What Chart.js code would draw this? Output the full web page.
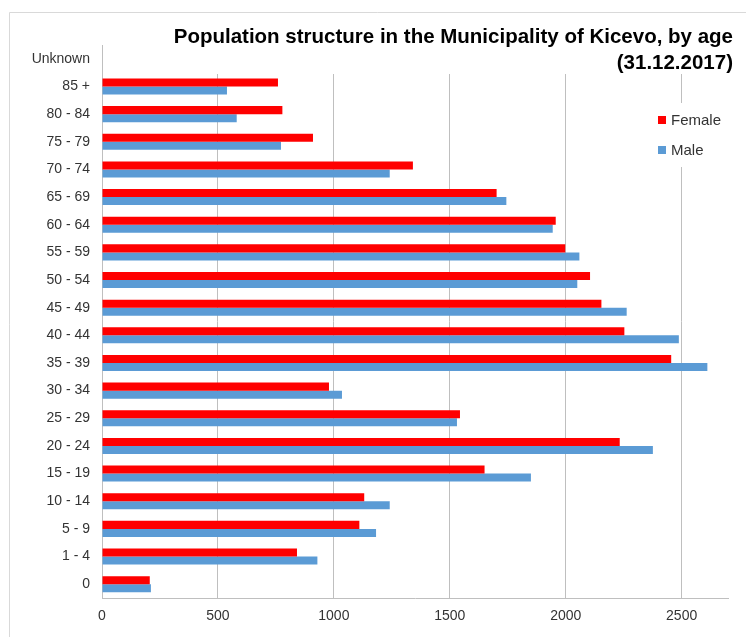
<!DOCTYPE html>
<html>
<head>
<meta charset="utf-8">
<script src="https://cdn.jsdelivr.net/npm/chart.js@4"></script>
<style>
  body { margin: 0; background: #fff; }
  #wrap { width: 746px; height: 637px; position: relative; }
</style>
</head>
<body>
<div id="wrap"><canvas id="chart"></canvas></div>
<script>
// age groups, top to bottom as shown
const ageGroups = ['Unknown', '85 +', '80 - 84', '75 - 79', '70 - 74', '65 - 69', '60 - 64', '55 - 59',
  '50 - 54', '45 - 49', '40 - 44', '35 - 39', '30 - 34', '25 - 29', '20 - 24', '15 - 19',
  '10 - 14', '5 - 9', '1 - 4', '0'];
const female = [0, 759, 778, 910, 1341, 1702, 1957, 1998, 2105, 2154, 2253, 2455, 979, 1544, 2233, 1650, 1131, 1110, 841, 206];
const male = [0, 539, 581, 772, 1241, 1744, 1944, 2059, 2050, 2263, 2488, 2611, 1035, 1531, 2376, 1850, 1241, 1182, 929, 211];
const xTicks = [0, 500, 1000, 1500, 2000, 2500];

const titleLines = ['Population structure in the Municipality of Kicevo, by age', '(31.12.2017)'];
const legendItems = [{ text: 'Female', color: '#ff0000' }, { text: 'Male', color: '#5b9bd5' }];

const FONT = '"Liberation Sans", Arial, sans-serif';
const TEXT = '#333333';

// frame + masks behind title/legend (gridlines are hidden there in the original)
const decor = {
  id: 'decor',
  beforeDraw(chart) {
    const ctx = chart.ctx;
    ctx.save();
    ctx.fillStyle = '#fff';
    ctx.fillRect(0, 0, chart.width, chart.height);
    ctx.strokeStyle = '#d9d9d9';
    ctx.lineWidth = 1;
    ctx.beginPath();
    ctx.moveTo(9.5, chart.height);
    ctx.lineTo(9.5, 12.5);
    ctx.lineTo(chart.width, 12.5);
    ctx.stroke();
    ctx.restore();
  },
  beforeDatasetsDraw(chart) {
    const ctx = chart.ctx;
    ctx.save();
    ctx.fillStyle = '#fff';
    ctx.fillRect(150, chart.chartArea.top - 1, 600, 74 - chart.chartArea.top + 1);
    ctx.fillRect(650, 103, 90, 64);
    ctx.restore();
  },
  afterDraw(chart) {
    const ctx = chart.ctx;
    ctx.save();
    ctx.fillStyle = '#000';
    ctx.font = 'bold 20.5px ' + FONT;
    ctx.textAlign = 'right';
    ctx.textBaseline = 'middle';
    ctx.fillText(titleLines[0], 733, 37);
    ctx.fillText(titleLines[1], 733, 63);

    ctx.font = '15px ' + FONT;
    ctx.textAlign = 'left';
    legendItems.forEach((item, i) => {
      const y = 120 + i * 30;
      ctx.fillStyle = item.color;
      ctx.fillRect(658, y - 4, 8, 8);
      ctx.fillStyle = TEXT;
      ctx.fillText(item.text, 671, y + 1);
    });
    ctx.restore();
  }
};

const ctx = document.getElementById('chart').getContext('2d');
const popChart = new Chart(ctx, {
  type: 'bar',
  data: {
    labels: ageGroups,
    datasets: [{
      label: 'Female',
      data: female,
      backgroundColor: '#ff0000',
      categoryPercentage: 0.58,
      barPercentage: 1.0
    }, {
      label: 'Male',
      data: male,
      backgroundColor: '#5b9bd5',
      categoryPercentage: 0.58,
      barPercentage: 1.0
    }]
  },
  options: {
    indexAxis: 'y',
    responsive: true,
    maintainAspectRatio: false,
    animation: false,
    layout: { padding: { top: 45, right: 18, bottom: 0, left: 0 } },
    plugins: {
      legend: { display: false },
      title: { display: false },
      tooltip: { enabled: false }
    },
    scales: {
      x: {
        min: 0,
        max: 2700,
        afterBuildTicks(scale) {
          scale.ticks = xTicks.map(v => ({ value: v }));
        },
        afterFit(scale) { scale.height = 39; },
        ticks: {
          padding: 10,
          color: TEXT,
          font: { family: FONT, size: 14 },
          callback: (value) => String(value)
        },
        grid: { color: '#bfbfbf', drawTicks: false },
        border: { color: '#bfbfbf' }
      },
      y: {
        afterFit(scale) { scale.width = 102; },
        ticks: {
          padding: 12,
          color: TEXT,
          font: { family: FONT, size: 14 }
        },
        grid: { drawOnChartArea: false, drawTicks: false },
        border: { color: '#bfbfbf' }
      }
    }
  },
  plugins: [decor]
});
</script>
</body>
</html>
